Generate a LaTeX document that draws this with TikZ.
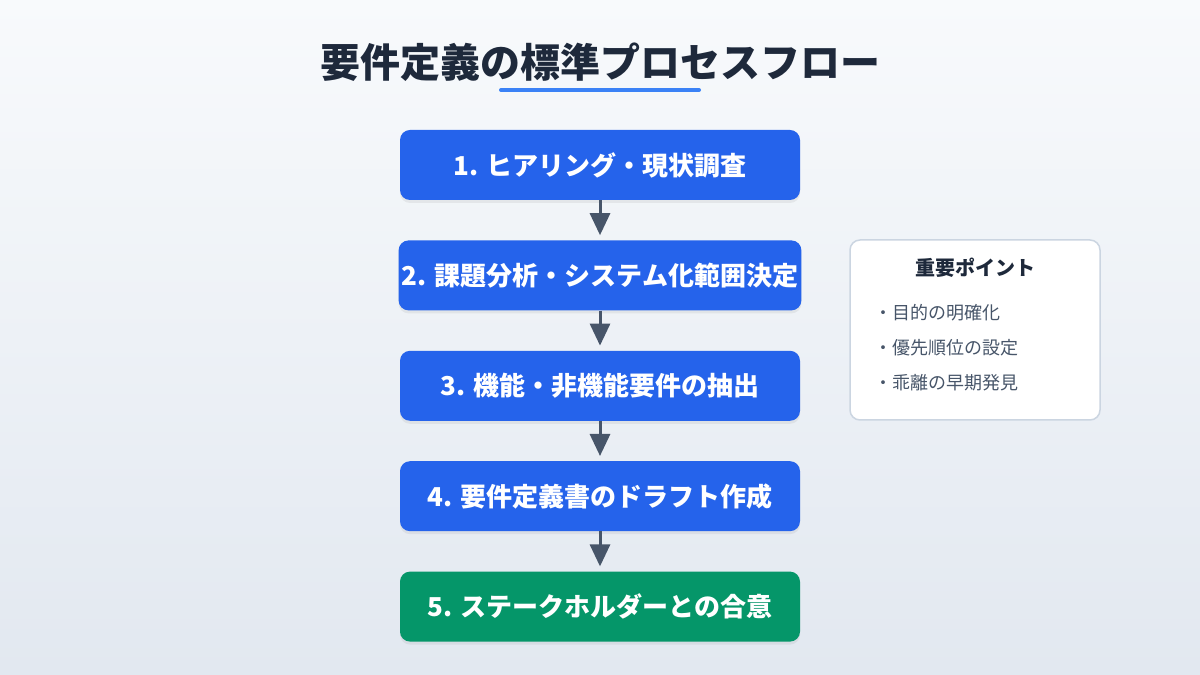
\documentclass[tikz,border=0pt]{standalone}
\usepackage{fontspec}
\setmainfont{Noto Sans CJK JP}
\usepackage{tikz}
\usetikzlibrary{positioning,arrows.meta,shadows}

\definecolor{stepblue}{HTML}{2563EB}
\definecolor{stepgreen}{HTML}{059669}
\definecolor{arrowgray}{HTML}{475569}
\definecolor{titledark}{HTML}{1E293B}
\definecolor{lineblue}{HTML}{3B82F6}
\definecolor{bgtop}{HTML}{F8FAFC}
\definecolor{bgbottom}{HTML}{E2E8F0}
\definecolor{panelborder}{HTML}{CBD5E1}
\definecolor{listgray}{HTML}{475569}

\begin{document}
\begin{tikzpicture}[
        x=1pt, y=1pt,
        node distance=40pt,
        box/.style={
            rectangle,
            fill=stepblue,
            minimum width=400pt,
            minimum height=70pt,
            align=center,
            rounded corners=10pt,
            text=white,
            font=\bfseries\fontsize{26}{30}\selectfont,
            drop shadow={opacity=0.12, shadow xshift=0pt, shadow yshift=-3pt}
        },
        arrow/.style={
            -{Triangle[width=20pt,length=22pt]},
            line width=3pt,
            draw=arrowgray
        },
        point/.style={
            anchor=west,
            text=listgray,
            font=\fontsize{18}{22}\selectfont
        }
    ]

    % Background
    \shade[top color=bgtop, bottom color=bgbottom] (0,0) rectangle (1200,675);

    % Title
    \node[text=titledark, font=\bfseries\fontsize{40}{46}\selectfont] (title) at (600,613) {要件定義の標準プロセスフロー};
    \coordinate (ulineL) at (501,585);
    \coordinate (ulineR) at (699,585);
    \draw[lineblue, line width=4pt, line cap=round] (ulineL) -- (ulineR);

    % Process steps
    \node[box] (hearing) at (600,510) {1. ヒアリング・現状調査};
    \node[box, below=of hearing] (scope) {2. 課題分析・システム化範囲決定};
    \node[box, below=of scope] (extract) {3. 機能・非機能要件の抽出};
    \node[box, below=of extract] (draft) {4. 要件定義書のドラフト作成};
    \node[box, below=of draft, fill=stepgreen] (agree) {5. ステークホルダーとの合意};

    % Connections
    \draw[arrow] (hearing) -- ([yshift=5pt]scope.north);
    \draw[arrow] (scope) -- ([yshift=5pt]extract.north);
    \draw[arrow] (extract) -- ([yshift=5pt]draft.north);
    \draw[arrow] (draft) -- ([yshift=5pt]agree.north);

    % Key points panel
    \node[rectangle, draw=panelborder, line width=1.5pt, fill=white, rounded corners=10pt,
          minimum width=250pt, minimum height=180pt] (panel) at (975,345) {};
    \node[below=15pt of panel.north, text=titledark, font=\bfseries\fontsize{20}{24}\selectfont] (paneltitle) {重要ポイント};
    \node[point] (pt1) at (871,362) {・目的の明確化};
    \node[point, below=35pt of pt1.west, anchor=west] (pt2) {・優先順位の設定};
    \node[point, below=35pt of pt2.west, anchor=west] (pt3) {・乖離の早期発見};

\end{tikzpicture}
\end{document}
